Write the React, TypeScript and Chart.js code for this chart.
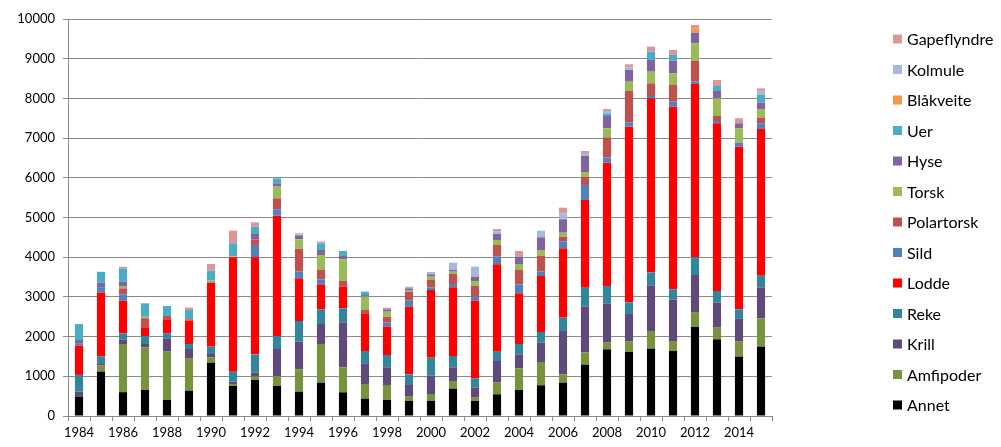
import React, { useEffect, useRef } from "react";
import { Chart, registerables } from "chart.js";

Chart.register(...registerables);

const years = [
  "1984", "1985", "1986", "1987", "1988", "1989", "1990", "1991", "1992", "1993",
  "1994", "1995", "1996", "1997", "1998", "1999", "2000", "2001", "2002", "2003",
  "2004", "2005", "2006", "2007", "2008", "2009", "2010", "2011", "2012", "2013",
  "2014", "2015",
];

const annet = [490, 1120, 600, 655, 403, 638, 1344, 756, 907, 756, 613, 840, 596, 437, 403, 378, 378, 689, 378, 546, 655, 773, 840, 1293, 1679, 1612, 1696, 1637, 2250, 1931, 1495, 1747];
const amfipoder = [0, 150, 1214, 1075, 1218, 806, 134, 50, 84, 252, 563, 974, 630, 369, 378, 109, 176, 193, 84, 294, 546, 587, 210, 311, 168, 261, 445, 252, 353, 294, 378, 713];
const krill = [125, 60, 117, 84, 336, 244, 84, 59, 101, 680, 697, 504, 1134, 521, 445, 294, 462, 344, 252, 546, 352, 487, 1091, 1150, 991, 697, 1151, 1050, 949, 630, 587, 781];
const reke = [420, 170, 150, 200, 126, 126, 185, 252, 461, 327, 520, 369, 352, 310, 311, 269, 453, 285, 235, 235, 261, 269, 336, 479, 437, 293, 327, 252, 445, 294, 227, 294];
const lodde = [740, 1610, 823, 220, 352, 588, 1612, 2880, 2445, 3032, 1075, 630, 546, 933, 713, 1704, 1705, 1730, 1956, 2200, 1276, 1411, 1747, 2208, 3107, 4426, 4383, 4601, 4366, 4224, 4098, 3695];
const sild = [60, 135, 160, 0, 0, 0, 0, 0, 310, 159, 168, 126, 0, 0, 101, 151, 67, 84, 101, 193, 227, 109, 168, 378, 126, 109, 59, 126, 59, 58, 101, 143];
const polartorsk = [0, 0, 150, 226, 85, 33, 0, 0, 142, 277, 579, 235, 151, 100, 151, 227, 185, 252, 269, 294, 361, 395, 126, 201, 512, 789, 319, 420, 521, 126, 0, 142];
const torsk = [0, 0, 60, 42, 0, 0, 50, 20, 0, 294, 235, 378, 538, 336, 126, 42, 84, 59, 126, 126, 151, 151, 100, 126, 227, 235, 294, 294, 445, 445, 361, 219];
const hyse = [80, 117, 110, 0, 0, 0, 0, 0, 135, 84, 101, 126, 84, 40, 59, 40, 59, 42, 109, 151, 185, 319, 336, 403, 310, 294, 294, 319, 269, 185, 126, 159];
const uer = [400, 270, 335, 336, 250, 235, 252, 333, 185, 126, 0, 168, 126, 86, 0, 0, 0, 0, 0, 0, 0, 0, 0, 0, 50, 0, 210, 143, 0, 126, 0, 193];
const blaakveite = [0, 0, 0, 0, 0, 0, 0, 0, 0, 0, 0, 0, 0, 0, 0, 0, 0, 0, 0, 0, 0, 0, 0, 0, 0, 0, 0, 0, 109, 0, 0, 0];
const kolmule = [0, 0, 0, 0, 0, 0, 0, 0, 0, 0, 25, 0, 0, 0, 0, 44, 59, 185, 252, 70, 0, 168, 151, 76, 76, 60, 0, 0, 0, 0, 0, 84];
const gapeflyndre = [0, 0, 40, 0, 0, 60, 168, 319, 109, 0, 25, 42, 0, 0, 42, 0, 0, 0, 0, 56, 143, 0, 143, 50, 50, 83, 126, 126, 84, 151, 126, 84];

const seriesNames = ["Annet", "Amfipoder", "Krill", "Reke", "Lodde", "Sild", "Polartorsk", "Torsk", "Hyse", "Uer", "Blåkveite", "Kolmule", "Gapeflyndre"];
const seriesValues = [annet, amfipoder, krill, reke, lodde, sild, polartorsk, torsk, hyse, uer, blaakveite, kolmule, gapeflyndre];
const seriesColors = ["#000000", "#77933C", "#604A7B", "#31859C", "#FF0000", "#4F81BD", "#C0504D", "#9BBB59", "#8064A2", "#4BACC6", "#F79646", "#A7B9DA", "#D99795"];

const yTicks = [0, 1000, 2000, 3000, 4000, 5000, 6000, 7000, 8000, 9000, 10000];

const FONT = "Lato, 'Open Sans', sans-serif";

const legendPlugin = {
  id: "customLegend",
  afterDraw(chart: any) {
    const ctx = chart.ctx;
    const ds = chart.data.datasets;
    ctx.save();
    ctx.font = `16px ${FONT}`;
    ctx.textBaseline = "middle";
    ctx.textAlign = "left";
    for (let i = 0; i < ds.length; i++) {
      const d = ds[ds.length - 1 - i];
      const cy = 39 + i * 30.5;
      ctx.fillStyle = d.backgroundColor;
      ctx.fillRect(893, cy - 4.5, 9, 9);
      ctx.fillStyle = "#000";
      ctx.fillText(d.label, 907, cy + 1);
    }
    ctx.restore();
  },
};

export default function App() {
  const ref = useRef<HTMLCanvasElement | null>(null);
  useEffect(() => {
    if (!ref.current) return;
    const chart = new Chart(ref.current, {
      type: "bar",
      data: {
        labels: years,
        datasets: seriesNames.map((name, i) => ({
          label: name,
          data: seriesValues[i],
          backgroundColor: seriesColors[i],
          borderWidth: 0,
          barPercentage: 0.37,
          categoryPercentage: 1,
        })),
      },
      options: {
        animation: false,
        responsive: false,
        maintainAspectRatio: false,
        layout: { padding: { left: 0, right: 229, top: 19, bottom: 0 } },
        plugins: { legend: { display: false }, tooltip: { enabled: false } },
        scales: {
          x: {
            stacked: true,
            offset: true,
            grid: {
              display: true,
              drawOnChartArea: false,
              drawTicks: true,
              tickLength: 5,
              color: "#8a8a8a",
              offset: true,
            },
            border: { display: true, color: "#8a8a8a" },
            ticks: {
              autoSkip: false,
              maxRotation: 0,
              minRotation: 0,
              padding: 4,
              color: "#000",
              font: { family: FONT, size: 13 },
              callback: (_v: any, i: number) => (i % 2 === 0 ? years[i] : ""),
            },
            afterFit: (s: any) => {
              s.height = 31;
            },
          },
          y: {
            stacked: true,
            min: 0,
            max: 10000,
            afterBuildTicks: (s: any) => {
              s.ticks = yTicks.map((v) => ({ value: v }));
            },
            grid: { color: "#8a8a8a", tickLength: 5, lineWidth: 1 },
            border: { display: true, color: "#8a8a8a" },
            ticks: {
              padding: 8,
              color: "#000",
              font: { family: FONT, size: 13 },
              callback: (v: any) => String(v),
            },
            afterFit: (s: any) => {
              s.width = 68;
            },
          },
        },
      },
      plugins: [legendPlugin],
    });
    return () => chart.destroy();
  }, []);
  return (
    <div style={{ position: "absolute", left: 0, top: 0, width: 1001, height: 447, background: "#fff" }}>
      <canvas ref={ref} width={1001} height={447} style={{ width: 1001, height: 447 }} />
    </div>
  );
}
